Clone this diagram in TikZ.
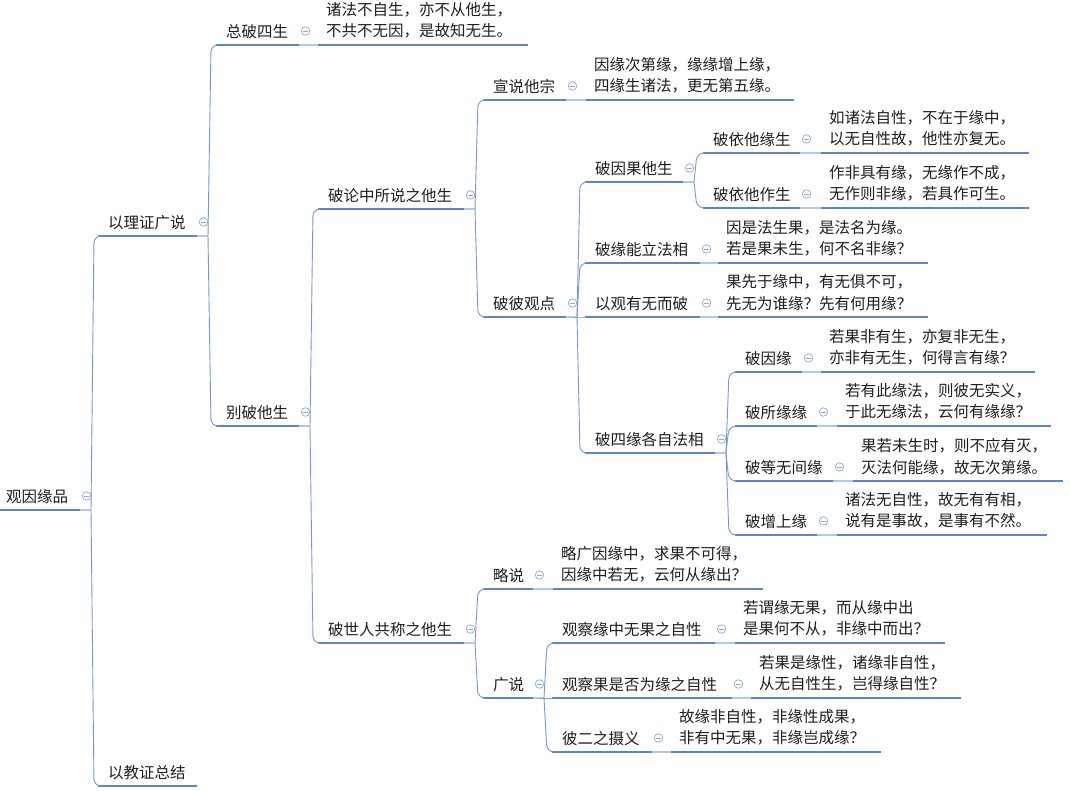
\documentclass[tikz,border=0pt]{standalone}
\usepackage{fontspec}
\setmainfont{Noto Sans CJK SC}
\usetikzlibrary{calc}
\definecolor{ulc}{HTML}{5B87C6}
\definecolor{lightc}{HTML}{B3C9E8}
\definecolor{brc}{HTML}{7399D0}
\definecolor{iconc}{HTML}{8FA9D4}
\definecolor{txtc}{HTML}{1E1E1E}
\newcommand\mmfont{\fontsize{15.5}{21.5}\selectfont}
% topic: name, x1, x2, y, text
\newcommand\mmtopic[5]{%
  \coordinate (#1-l) at (#2,#4);
  \coordinate (#1-r) at (#3,#4);
  \node[topic] (#1) at ({#2+10},{#4-8}) {#5};
  \draw[ul] (#1-l) -- (#1-r);
}
% icon + junction for a topic with children
\newcommand\mmicon[1]{%
  \node[mmic] (#1-i) at ($(#1-r)+(6.5,-14)$) {};
  \coordinate (#1-j) at ($(#1-r)+(11,0)$);
}
% leaf: name, x1, x2, y, line1, line2
\newcommand\mmleaf[6]{%
  \coordinate (#1-l) at (#2,#4);
  \coordinate (#1-r) at (#3,#4);
  \node[leaf] (#1) at ({#2+8},{#4-24.5}) {#5\\#6};
  \draw[ul] (#1-l) -- (#1-r);
}
% bracket link from parent junction to child underline start
\newcommand\mmlink[2]{%
  \draw[br] (#1-j) -- ($(#1-j |- #2-l)+(3,0)$) -- (#2-l);
}
\begin{document}
\begin{tikzpicture}[x=1pt,y=-1pt,
  topic/.style={anchor=base west, inner sep=0pt, font=\mmfont, text=txtc},
  leaf/.style={anchor=west, align=left, inner sep=0pt, font=\mmfont, text=txtc},
  ul/.style={draw=ulc, line width=2.2pt},
  light/.style={draw=lightc, line width=2pt},
  br/.style={draw=brc, line width=0.9pt, rounded corners=7pt},
  mmic/.style={circle, draw=iconc, line width=0.7pt, minimum size=8.5pt, inner sep=0pt,
    path picture={\draw[iconc, line width=0.7pt] ([xshift=-2.2pt]path picture bounding box.center) -- ([xshift=2.2pt]path picture bounding box.center);}}
]
\useasboundingbox (0,0) rectangle (1070,790);

% root
\mmtopic{R}{-4}{80}{510}{观因缘品}
\mmicon{R}
\draw[light] (R-r) -- (R-j);

% level 1
\mmtopic{A}{98}{197}{236}{以理证广说}
\mmicon{A}
\draw[light] (A-r) -- (A-j);
\mmtopic{B}{98}{197}{786}{以教证总结}
\mmlink{R}{A}
\mmlink{R}{B}

% level 2
\mmtopic{A1}{216}{299}{45}{总破四生}
\mmicon{A1}
\mmleaf{A1L}{318}{528}{45}{诸法不自生，亦不从他生，}{不共不无因，是故知无生。}
\draw[light] (A1-r) -- (A1L-l);
\mmtopic{A2}{216}{299}{426}{别破他生}
\mmicon{A2}
\draw[light] (A2-r) -- (A2-j);
\mmlink{A}{A1}
\mmlink{A}{A2}

% level 3
\mmtopic{C1}{318}{464}{209}{破论中所说之他生}
\mmicon{C1}
\draw[light] (C1-r) -- (C1-j);
\mmtopic{C2}{318}{464}{643}{破世人共称之他生}
\mmicon{C2}
\draw[light] (C2-r) -- (C2-j);
\mmlink{A2}{C1}
\mmlink{A2}{C2}

% children of C1
\mmtopic{D1}{483}{566}{100}{宣说他宗}
\mmicon{D1}
\mmleaf{D1L}{586}{794}{100}{因缘次第缘，缘缘增上缘，}{四缘生诸法，更无第五缘。}
\draw[light] (D1-r) -- (D1L-l);
\mmtopic{D2}{483}{566}{317}{破彼观点}
\mmicon{D2}
\draw[light] (D2-r) -- (D2-j);
\mmlink{C1}{D1}
\mmlink{C1}{D2}

% children of D2
\mmtopic{E1}{585}{683}{182}{破因果他生}
\mmicon{E1}
\draw[light] (E1-r) -- (E1-j);
\mmtopic{E2}{585}{700}{263}{破缘能立法相}
\mmicon{E2}
\mmleaf{E2L}{718}{928}{263}{因是法生果，是法名为缘。}{若是果未生，何不名非缘？}
\draw[light] (E2-r) -- (E2L-l);
\mmtopic{E3}{585}{700}{317}{以观有无而破}
\mmicon{E3}
\mmleaf{E3L}{718}{928}{317}{果先于缘中，有无俱不可，}{先无为谁缘？先有何用缘？}
\draw[light] (E3-r) -- (E3L-l);
\mmtopic{E4}{585}{715}{453}{破四缘各自法相}
\mmicon{E4}
\draw[light] (E4-r) -- (E4-j);
\mmlink{D2}{E1}
\mmlink{D2}{E2}
\mmlink{D2}{E3}
\mmlink{D2}{E4}

% children of E1
\mmtopic{F1}{703}{800}{153}{破依他缘生}
\mmicon{F1}
\mmleaf{F1L}{821}{1029}{153}{如诸法自性，不在于缘中，}{以无自性故，他性亦复无。}
\draw[light] (F1-r) -- (F1L-l);
\mmtopic{F2}{703}{800}{208}{破依他作生}
\mmicon{F2}
\mmleaf{F2L}{821}{1029}{208}{作非具有缘，无缘作不成，}{无作则非缘，若具作可生。}
\draw[light] (F2-r) -- (F2L-l);
\mmlink{E1}{F1}
\mmlink{E1}{F2}

% children of E4
\mmtopic{G1}{735}{802}{372}{破因缘}
\mmicon{G1}
\mmleaf{G1L}{821}{1035}{372}{若果非有生，亦复非无生，}{亦非有无生，何得言有缘？}
\draw[light] (G1-r) -- (G1L-l);
\mmtopic{G2}{735}{817}{426}{破所缘缘}
\mmicon{G2}
\mmleaf{G2L}{837}{1051}{426}{若有此缘法，则彼无实义，}{于此无缘法，云何有缘缘？}
\draw[light] (G2-r) -- (G2L-l);
\mmtopic{G3}{735}{833}{481}{破等无间缘}
\mmicon{G3}
\mmleaf{G3L}{853}{1063}{481}{果若未生时，则不应有灭，}{灭法何能缘，故无次第缘。}
\draw[light] (G3-r) -- (G3L-l);
\mmtopic{G4}{735}{817}{535}{破增上缘}
\mmicon{G4}
\mmleaf{G4L}{837}{1047}{535}{诸法无自性，故无有有相，}{说有是事故，是事有不然。}
\draw[light] (G4-r) -- (G4L-l);
\mmlink{E4}{G1}
\mmlink{E4}{G2}
\mmlink{E4}{G3}
\mmlink{E4}{G4}

% children of C2
\mmtopic{H1}{483}{533}{589}{略说}
\mmicon{H1}
\mmleaf{H1L}{553}{763}{589}{略广因缘中，求果不可得，}{因缘中若无，云何从缘出？}
\draw[light] (H1-r) -- (H1L-l);
\mmtopic{H2}{483}{533}{698}{广说}
\mmicon{H2}
\draw[light] (H2-r) -- (H2-j);
\mmlink{C2}{H1}
\mmlink{C2}{H2}

% children of H2
\mmtopic{I1}{552}{715}{643}{观察缘中无果之自性}
\mmicon{I1}
\mmleaf{I1L}{735}{945}{643}{若谓缘无果，而从缘中出}{是果何不从，非缘中而出？}
\draw[light] (I1-r) -- (I1L-l);
\mmtopic{I2}{552}{732}{698}{观察果是否为缘之自性}
\mmicon{I2}
\mmleaf{I2L}{751}{961}{698}{若果是缘性，诸缘非自性，}{从无自性生，岂得缘自性？}
\draw[light] (I2-r) -- (I2L-l);
\mmtopic{I3}{552}{652}{752}{彼二之摄义}
\mmicon{I3}
\mmleaf{I3L}{671}{881}{752}{故缘非自性，非缘性成果，}{非有中无果，非缘岂成缘？}
\draw[light] (I3-r) -- (I3L-l);
\mmlink{H2}{I1}
\mmlink{H2}{I2}
\mmlink{H2}{I3}
\end{tikzpicture}
\end{document}
